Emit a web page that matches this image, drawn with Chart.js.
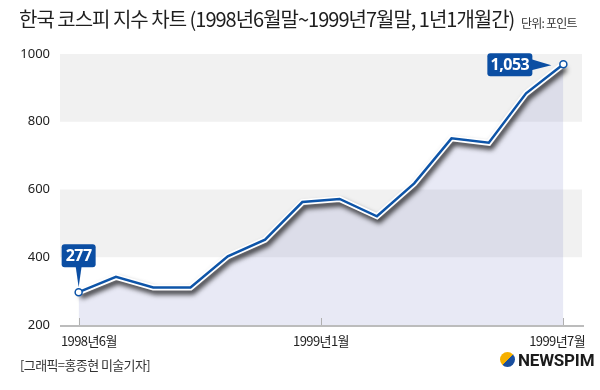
<!DOCTYPE html>
<html>
<head>
<meta charset="utf-8">
<script src="https://cdn.jsdelivr.net/npm/chart.js@4/dist/chart.umd.min.js"></script>
<style>
    html, body { margin: 0; padding: 0; background: #fff; }
    #wrap { position: relative; width: 600px; height: 390px; overflow: hidden; font-family: "Noto Sans CJK KR", sans-serif; }
    #kospiChart { position: absolute; left: 0; top: 0; }
    .title { position: absolute; left: 19px; top: 4px; font-size: 20px; letter-spacing: -1.0px; color: #1e1e1e; white-space: nowrap; }
    .unit { position: absolute; left: 521px; top: 14px; font-size: 12px; letter-spacing: -0.8px; color: #333; white-space: nowrap; }
    .credit { position: absolute; left: 20px; top: 355px; font-size: 13px; letter-spacing: -0.6px; color: #333; white-space: nowrap; }
    .logo { position: absolute; left: 500px; top: 352px; height: 16px; white-space: nowrap; }
    .logo .mark { display: inline-block; width: 15px; height: 15px; border-radius: 50%; vertical-align: top;
        background: linear-gradient(135deg, #f6b000 0%, #f6b000 52%, #1a4f9e 52%, #1a4f9e 100%); }
    .logo .name { display: inline-block; margin-left: 3px; font-family: "Liberation Sans Narrow", "Roboto", sans-serif;
        font-weight: bold; font-size: 17px; line-height: 16px; color: #1b1b1b; vertical-align: top; letter-spacing: -0.2px; }
</style>
</head>
<body>
<div id="wrap">
    <canvas id="kospiChart" width="600" height="390"></canvas>
    <div class="title">한국 코스피 지수 차트 (1998년6월말~1999년7월말, 1년1개월간)</div>
    <div class="unit">단위: 포인트</div>
    <div class="credit">[그래픽=홍종현 미술기자]</div>
    <div class="logo"><span class="mark"></span><span class="name">NEWSPIM</span></div>
</div>
<script>
// monthly points, 1998-06 .. 1999-07
const months = ['1998-06', '1998-07', '1998-08', '1998-09', '1998-10', '1998-11', '1998-12',
    '1999-01', '1999-02', '1999-03', '1999-04', '1999-05', '1999-06', '1999-07'];
const kospiValues = [297, 342, 311, 311, 403, 452, 563, 572, 521, 618, 751, 738, 884, 970];
const tickPositions = [0, 6.5, 13];
const tickLabels = ['1998년6월', '1999년1월', '1999년7월'];
const yTicks = [200, 400, 600, 800, 1000];
const bandRanges = [[800, 1000], [400, 600]];
const calloutLabels = ['277', '1,053'];

const BLUE = '#0d54a8';
const BOX = '#0b4ea3';

function roundRect(ctx, x, y, w, h, r) {
    ctx.beginPath();
    ctx.moveTo(x + r, y);
    ctx.arcTo(x + w, y, x + w, y + h, r);
    ctx.arcTo(x + w, y + h, x, y + h, r);
    ctx.arcTo(x, y + h, x, y, r);
    ctx.arcTo(x, y, x + w, y, r);
    ctx.closePath();
}

const decorPlugin = {
    id: 'decor',
    beforeDatasetsDraw(chart) {
        const { ctx, chartArea: a, scales: { y } } = chart;
        ctx.save();
        ctx.fillStyle = '#f1f1f1';
        bandRanges.forEach(([lo, hi]) => {
            const top = y.getPixelForValue(hi);
            const bot = y.getPixelForValue(lo);
            ctx.fillRect(a.left, top, a.right - a.left, bot - top);
        });
        ctx.restore();
    },
    beforeDatasetDraw(chart, args) {
        // drop shadow under the white outline of the line
        if (args.index === 1) {
            const ctx = chart.ctx;
            ctx.save();
            ctx.shadowColor = 'rgba(0,0,0,0.75)';
            ctx.shadowBlur = 5;
            ctx.shadowOffsetX = 2;
            ctx.shadowOffsetY = 4;
        }
    },
    afterDatasetDraw(chart, args) {
        if (args.index === 1) chart.ctx.restore();
    },
    afterDatasetsDraw(chart) {
        const { ctx, chartArea: a, scales: { x } } = chart;
        ctx.save();

        // axis line and ticks
        ctx.strokeStyle = '#bcbcbc';
        ctx.lineWidth = 2;
        ctx.beginPath();
        ctx.moveTo(a.left, a.bottom + 1);
        ctx.lineTo(a.right + 2, a.bottom + 1);
        ctx.stroke();
        ctx.lineWidth = 1;
        ctx.strokeStyle = '#b0b0b0';
        tickPositions.forEach(t => {
            const px = Math.round(x.getPixelForValue(t)) + 0.5;
            ctx.beginPath();
            ctx.moveTo(px, a.bottom - 7);
            ctx.lineTo(px, a.bottom);
            ctx.stroke();
        });

        // x labels: first flush left, last flush right
        ctx.fillStyle = '#222';
        ctx.font = '13px "Noto Sans CJK KR", sans-serif';
        ctx.letterSpacing = '-0.6px';
        ctx.textBaseline = 'middle';
        tickLabels.forEach((lab, i) => {
            let px = x.getPixelForValue(tickPositions[i]);
            if (i === 0) { ctx.textAlign = 'left'; px = a.left + 1; }
            else if (i === tickLabels.length - 1) { ctx.textAlign = 'right'; px = a.right + 3; }
            else ctx.textAlign = 'center';
            ctx.fillText(lab, px, a.bottom + 16);
        });

        // callouts
        const pts = chart.getDatasetMeta(0).data;
        const p0 = pts[0];
        const p1 = pts[pts.length - 1];
        ctx.letterSpacing = '-0.5px';
        ctx.font = 'bold 16px "Noto Sans", sans-serif';
        ctx.textAlign = 'center';
        ctx.fillStyle = BOX;

        // first point: box above
        let bx = p0.x - 17, by = p0.y - 48;
        roundRect(ctx, bx, by, 34, 23, 3);
        ctx.fill();
        ctx.beginPath();
        ctx.moveTo(p0.x - 3, by + 22);
        ctx.lineTo(p0.x + 3, by + 22);
        ctx.lineTo(p0.x, p0.y - 5);
        ctx.closePath();
        ctx.fill();
        ctx.fillStyle = '#fff';
        ctx.fillText(calloutLabels[0], p0.x, by + 12);

        // last point: box to the left
        ctx.fillStyle = BOX;
        bx = p1.x - 76; by = p1.y - 11;
        roundRect(ctx, bx, by, 45, 23, 3);
        ctx.fill();
        ctx.beginPath();
        ctx.moveTo(bx + 44, by + 6);
        ctx.lineTo(p1.x - 12, p1.y + 1);
        ctx.lineTo(bx + 44, by + 17);
        ctx.closePath();
        ctx.fill();
        ctx.fillStyle = '#fff';
        ctx.fillText(calloutLabels[1], bx + 22.5, by + 12);

        ctx.restore();
    }
};

const points = kospiValues.map((v, i) => ({ x: i, y: v }));
const lastIdx = months.length - 1;

new Chart(document.getElementById('kospiChart'), {
    type: 'line',
    data: {
        datasets: [{
            data: points,
            borderColor: BLUE,
            borderWidth: 2.5,
            fill: false,
            tension: 0,
            pointRadius: c => (c.dataIndex === 0 || c.dataIndex === lastIdx) ? 3.5 : 0,
            pointBackgroundColor: '#fff',
            pointBorderColor: BLUE,
            pointBorderWidth: 1.5,
            order: 1
        }, {
            data: points,
            borderColor: '#fff',
            borderWidth: 6,
            fill: false,
            tension: 0,
            pointRadius: 0,
            order: 2
        }, {
            data: points,
            borderWidth: 0,
            backgroundColor: 'rgba(100,110,185,0.15)',
            fill: 'start',
            tension: 0,
            pointRadius: 0,
            order: 3
        }]
    },
    options: {
        responsive: false,
        devicePixelRatio: 1,
        animation: false,
        layout: { padding: { top: 54, right: 18, left: 0, bottom: 0 } },
        plugins: { legend: { display: false }, tooltip: { enabled: false } },
        scales: {
            x: {
                type: 'linear',
                min: -0.5,
                max: 13.5,
                grid: { display: false },
                border: { display: false },
                ticks: { display: false },
                afterFit: s => { s.height = 65; }
            },
            y: {
                min: 200,
                max: 1000,
                grid: { display: false, drawTicks: false },
                border: { display: false },
                afterBuildTicks: s => { s.ticks = yTicks.map(v => ({ value: v })); },
                ticks: {
                    padding: 10,
                    color: '#222',
                    font: { family: '"Noto Sans", sans-serif', size: 13 },
                    callback: v => String(v)
                },
                afterFit: s => { s.width = 60; }
            }
        }
    },
    plugins: [decorPlugin]
});
</script>
</body>
</html>
